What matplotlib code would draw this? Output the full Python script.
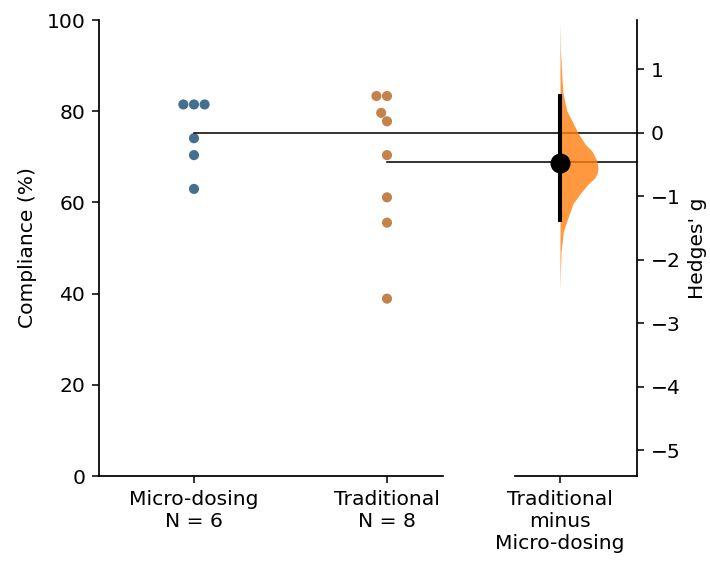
import numpy as np
import pandas as pd
import seaborn as sns
from matplotlib import pyplot as plt

# compliance (%) per subject
micro = [81.48, 81.48, 81.48, 74.07, 70.37, 62.96]
trad = [83.33, 83.33, 79.63, 77.78, 70.37, 61.11, 55.56, 38.89]
groups = ['Micro-dosing', 'Traditional']
xlabels = ['Micro-dosing\nN = 6', 'Traditional\nN = 8']
delta_label = 'Traditional\nminus\nMicro-dosing'

# bootstrap distribution of Hedges' g (relative density) and 95% CI
g_levels = [1.76, 1.28, 0.86, 0.61, 0.34, 0.18, 0.0, -0.18, -0.29, -0.44,
            -0.555, -0.63, -0.71, -0.81, -0.96, -1.12, -1.34, -1.55, -1.86,
            -2.17, -2.49]
g_density = [0.0, 0.013, 0.05, 0.08, 0.18, 0.32, 0.47, 0.66, 0.84, 0.97,
             1.0, 0.98, 0.92, 0.74, 0.53, 0.34, 0.21, 0.09, 0.03, 0.013, 0.0]
ci = (0.61, -1.40)

DPI = 140
plt.rcParams['font.size'] = 10.4
plt.rcParams['axes.linewidth'] = 0.9

def hedges_g(a, b):
    a = np.asarray(a); b = np.asarray(b)
    na, nb = len(a), len(b)
    sp = np.sqrt(((na - 1) * a.var(ddof=1) + (nb - 1) * b.var(ddof=1)) / (na + nb - 2))
    d = (b.mean() - a.mean()) / sp
    return d * (1 - 3 / (4 * (na + nb) - 9))

g = hedges_g(micro, trad)
m_ctrl = np.mean(micro)
m_test = np.mean(trad)

df = pd.DataFrame({'group': ['Micro-dosing'] * len(micro) + ['Traditional'] * len(trad),
                   'val': micro + trad})
pal = {'Micro-dosing': sns.desaturate('tab:blue', 0.5),
       'Traditional': sns.desaturate('tab:orange', 0.5)}

fig = plt.figure(figsize=(710 / DPI, 561 / DPI), dpi=DPI)
ax = fig.add_axes([99 / 710, 85 / 561, 344 / 710, 456 / 561])
ax2 = fig.add_axes([515 / 710, 85 / 561, 122 / 710, 456 / 561])

sns.swarmplot(data=df, x='group', y='val', hue='group', order=groups,
              palette=pal, size=5.2, legend=False, ax=ax)
ax.set_xlim(-0.492, 1.29)
ax.set_ylim(0, 100)
ax.set_xticks([0, 1])
ax.set_xticklabels(xlabels)
ax.set_xlabel('')
ax.set_ylabel('Compliance (%)', labelpad=5)
ax.spines['top'].set_visible(False)
ax.spines['right'].set_visible(False)

# contrast axes
ax2.set_xlim(-0.45, 0.77)
s = (m_test - m_ctrl) / g
ax2.set_ylim((0 - m_ctrl) / s, (100 - m_ctrl) / s)
w = np.array(g_density) * 0.38
ax2.fill_betweenx(g_levels, 0, w, color='tab:orange', alpha=0.8, lw=0)
ax2.plot([0, 0], ci, color='black', lw=2.1, solid_capstyle='butt')
ax2.plot([0], [g], 'o', color='black', markersize=9.3)
ax2.set_xticks([0])
ax2.set_xticklabels([delta_label])
ax2.set_yticks(range(-5, 2))
ax2.yaxis.tick_right()
ax2.yaxis.set_label_position('right')
ax2.set_ylabel("Hedges' g")
ax2.spines['top'].set_visible(False)
ax2.spines['left'].set_visible(False)
ax2.patch.set_alpha(0)

# reference lines at the group means, running across to the contrast axis
x_end = ax.transData.inverted().transform(ax2.transAxes.transform((1, 0)))[0]
ax.plot([0, x_end], [m_ctrl, m_ctrl], color='black', lw=0.8, clip_on=False, zorder=5)
ax.plot([1, x_end], [m_test, m_test], color='black', lw=0.8, clip_on=False, zorder=5)

plt.savefig('out.png')
